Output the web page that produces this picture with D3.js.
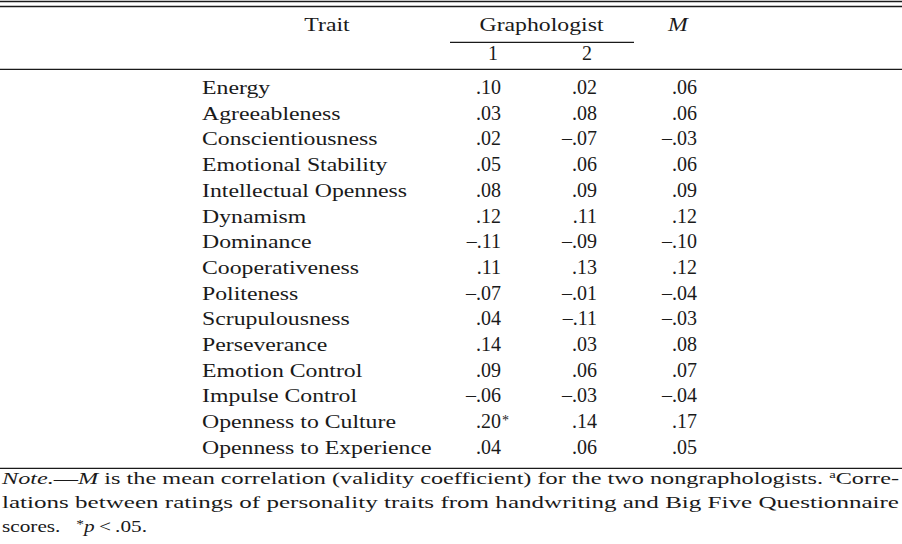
<!DOCTYPE html>
<html><head><meta charset="utf-8">
<script src="https://cdn.jsdelivr.net/npm/d3@7"></script>
<style>
html,body{margin:0;padding:0;background:#fff;}
svg{display:block;}
text{font-family:"Liberation Serif","Times New Roman",serif;fill:#1a1a1a;}
</style></head>
<body>
<svg id="chart" width="902" height="544"></svg>
<script>
// ---- data ----
const traits = ["Energy","Agreeableness","Conscientiousness","Emotional Stability","Intellectual Openness","Dynamism","Dominance","Cooperativeness","Politeness","Scrupulousness","Perseverance","Emotion Control","Impulse Control","Openness to Culture","Openness to Experience"];
const graphologist1 = [0.10,0.03,0.02,0.05,0.08,0.12,-0.11,0.11,-0.07,0.04,0.14,0.09,-0.06,0.20,0.04];
const graphologist2 = [0.02,0.08,-0.07,0.06,0.09,0.11,-0.09,0.13,-0.01,-0.11,0.03,0.06,-0.03,0.14,0.06];
const meanM = [0.06,0.06,-0.03,0.06,0.09,0.12,-0.10,0.12,-0.04,-0.03,0.08,0.07,-0.04,0.17,0.05];
const significant1 = [false,false,false,false,false,false,false,false,false,false,false,false,false,true,false];
const columns = ["label","g1","g2","M"];
const headerLabels = {trait:"Trait", group:"Graphologist", sub:["1","2"], mean:"M"};

const svg = d3.select("#chart");
const W = 902;
const K = 1.25; // horizontal stretch for letter text (approximate Palatino widths)

function stretch(sel, k){
  sel.each(function(){
    const w = this.getComputedTextLength();
    d3.select(this).attr("textLength", w*k).attr("lengthAdjust","spacingAndGlyphs");
  });
  return sel;
}
function fmt(v){
  const s = Math.abs(v).toFixed(2).replace(/^0/,"");
  return (v<0 ? "\u2013" : "") + s;
}

// scales
const y = d3.scalePoint().domain(traits).range([94, 94 + 14*25.7]);
const xCol = d3.scaleOrdinal().domain(columns).range([202, 501, 597, 697]);

// rules
const rules = [1.5, 6.5, 69.3, 468.3];
svg.selectAll("line.rule").data(rules).join("line")
  .attr("class","rule").attr("x1",0).attr("x2",W)
  .attr("y1",d=>d).attr("y2",d=>d)
  .attr("stroke","#1a1a1a").attr("stroke-width",1.3);

// header
const fs = 19, nfsz = 20;
stretch(svg.append("text").attr("x",327).attr("y",31).attr("text-anchor","middle")
  .attr("font-size",fs).text(headerLabels.trait), K);
stretch(svg.append("text").attr("x",541.5).attr("y",31).attr("text-anchor","middle")
  .attr("font-size",fs).text(headerLabels.group), K);
svg.append("line").attr("x1",450).attr("x2",634).attr("y1",42.3).attr("y2",42.3)
  .attr("stroke","#1a1a1a").attr("stroke-width",1.2);
stretch(svg.append("text").attr("x",678).attr("y",31).attr("text-anchor","middle")
  .attr("font-size",fs).attr("font-style","italic").text(headerLabels.mean), K);
svg.selectAll("text.sub").data(headerLabels.sub).join("text")
  .attr("class","sub")
  .attr("x",(d,i)=>[493,587][i]).attr("y",60).attr("text-anchor","middle")
  .attr("font-size",nfsz).text(d=>d);

// body rows
const rows = svg.selectAll("g.row").data(traits).join("g")
  .attr("class","row").attr("transform",d=>`translate(0,${y(d)})`);
rows.append("text").attr("x",xCol("label")).attr("font-size",fs).text(d=>d)
  .call(s=>stretch(s,K));
rows.append("text").attr("x",xCol("g1")).attr("text-anchor","end").attr("font-size",nfsz)
  .text((d,i)=>fmt(graphologist1[i]));
rows.append("text").attr("x",xCol("g2")).attr("text-anchor","end").attr("font-size",nfsz)
  .text((d,i)=>fmt(graphologist2[i]));
rows.append("text").attr("x",xCol("M")).attr("text-anchor","end").attr("font-size",nfsz)
  .text((d,i)=>fmt(meanM[i]));
rows.filter((d,i)=>significant1[i]).append("text")
  .attr("x",xCol("g1")+1).attr("y",-3).attr("font-size",14).text("*");

// note
const nfs = 16.5;
const n1 = svg.append("text").attr("x",2).attr("y",484).attr("font-size",nfs);
n1.append("tspan").attr("font-style","italic").text("Note.");
n1.append("tspan").text("\u2014");
n1.append("tspan").attr("font-style","italic").text("M");
n1.append("tspan").text(" is the mean correlation (validity coefficient) for the two nongraphologists. ");
n1.append("tspan").attr("font-size",10).attr("dy",-6).text("a");
n1.append("tspan").attr("dy",6).text("Corre-");
n1.attr("textLength",897).attr("lengthAdjust","spacingAndGlyphs");

svg.append("text").attr("x",2).attr("y",508).attr("font-size",nfs)
  .text("lations between ratings of personality traits from handwriting and Big Five Questionnaire")
  .attr("textLength",897).attr("lengthAdjust","spacingAndGlyphs");

const n3 = svg.append("text").attr("x",2).attr("y",532).attr("font-size",nfs);
n3.append("tspan").text("scores.\u00a0\u00a0\u00a0");
n3.append("tspan").attr("font-size",12).attr("dy",-4).text("*");
n3.append("tspan").attr("font-style","italic").attr("dy",4).text("p");
n3.append("tspan").text("\u2009<\u2009.05.");
n3.attr("textLength",145).attr("lengthAdjust","spacingAndGlyphs");
</script>
</body></html>
